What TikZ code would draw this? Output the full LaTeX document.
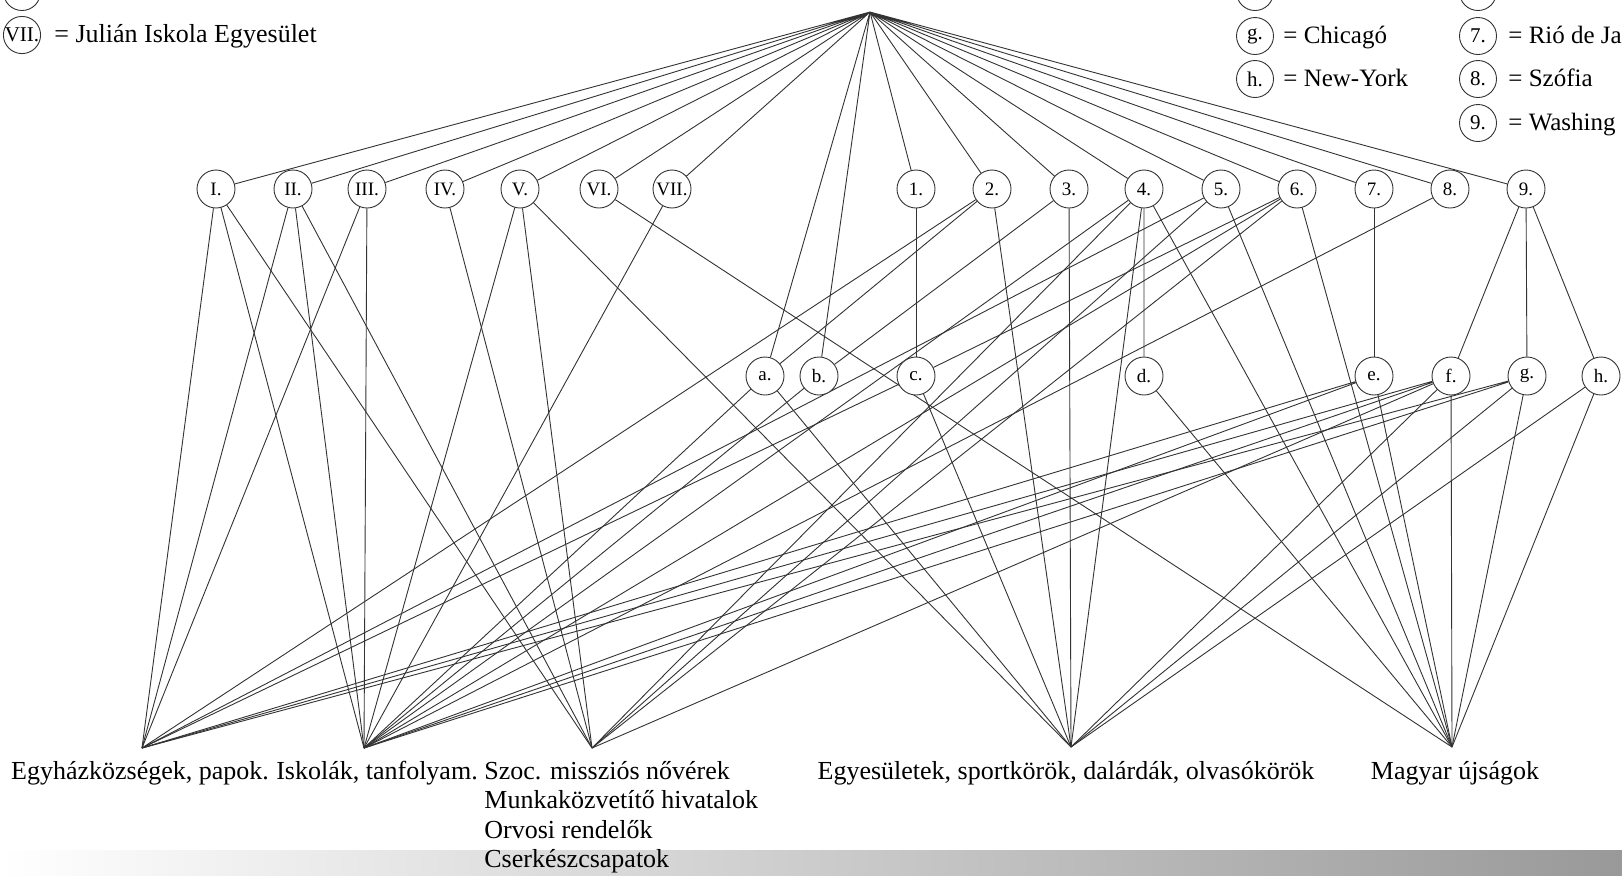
\documentclass[tikz,border=0pt]{standalone}
\usepackage{fontspec}
\setmainfont{Liberation Serif}
\usetikzlibrary{backgrounds}

\tikzset{
 hub/.style={circle, draw=black!80, fill=white, line width=0.45pt, minimum size=19pt, inner sep=0pt, font=\fontsize{9.5}{11}\selectfont},
 keyhub/.style={hub, minimum size=18.5pt, font=\fontsize{10.5}{12}\selectfont},
 tie/.style={line width=0.45pt, black!80},
 lbl/.style={inner sep=0pt, font=\fontsize{13}{15}\selectfont},
 keylbl/.style={lbl, font=\fontsize{12.5}{15}\selectfont}
}

\begin{document}
\begin{tikzpicture}[x=0.5pt, y=-0.5pt]
 \useasboundingbox (0,0) rectangle (1622,875);
 \clip (0,0) rectangle (1622,875);
 \shade[left color=white, right color=black!40] (0,850) rectangle (1622,875);

 \node[keyhub] (kVI) at (22,-8) {};
 \node[keyhub] (kVII) at (22,35) {VII.};
 \node[lbl, anchor=base west] (tVII) at (54,42) {= Julián Iskola Egyesület};
 \node[keyhub] (kf) at (1255,-8) {};
 \node[keyhub] (kg) at (1255,36) {g.};
 \node[keylbl, anchor=base west] (tg) at (1283,43) {= Chicagó};
 \node[keyhub] (kh) at (1255,79) {h.};
 \node[keylbl, anchor=base west] (th) at (1283,86) {= New-York};
 \node[keyhub] (k6) at (1478,-8) {};
 \node[keyhub] (k7) at (1478,36) {7.};
 \node[keylbl, anchor=base west] (t7) at (1508,43) {= Rió de Ja};
 \node[keyhub] (k8) at (1478,79) {8.};
 \node[keylbl, anchor=base west] (t8) at (1508,86) {= Szófia};
 \node[keyhub] (k9) at (1478,123) {9.};
 \node[keylbl, anchor=base west] (t9) at (1508,130) {= Washing};

 \coordinate (top) at (870,12);
 \node[hub] (r1) at (216,189) {I.};
 \node[hub] (r2) at (293,189) {II.};
 \node[hub] (r3) at (367,189) {III.};
 \node[hub] (r4) at (445,189) {IV.};
 \node[hub] (r5) at (520,189) {V.};
 \node[hub] (r6) at (599,189) {VI.};
 \node[hub] (r7) at (672,189) {VII.};
 \node[hub] (n1) at (916,189) {1.};
 \node[hub] (n2) at (992,189) {2.};
 \node[hub] (n3) at (1069,189) {3.};
 \node[hub] (n4) at (1144,189) {4.};
 \node[hub] (n5) at (1221,189) {5.};
 \node[hub] (n6) at (1297,189) {6.};
 \node[hub] (n7) at (1374,189) {7.};
 \node[hub] (n8) at (1450,189) {8.};
 \node[hub] (n9) at (1526,189) {9.};
 \node[hub] (la) at (765,376) {a.};
 \node[hub] (lb) at (819,376) {b.};
 \node[hub] (lc) at (916,376) {c.};
 \node[hub] (ld) at (1144,376) {d.};
 \node[hub] (le) at (1374,376) {e.};
 \node[hub] (lf) at (1451,376) {f.};
 \node[hub] (lg) at (1527,376) {g.};
 \node[hub] (lh) at (1601,376) {h.};

 \coordinate (pE) at (142,748);
 \coordinate (pI) at (364,748);
 \coordinate (pS) at (592,748);
 \coordinate (pY) at (1071,747);
 \coordinate (pM) at (1452,747);
 \node[lbl, anchor=base] (egyhaz) at (140,779) {Egyházközségek, papok.};
 \node[lbl, anchor=base] (iskola) at (377,779) {Iskolák, tanfolyam.};
 \node[lbl, anchor=base west] (szoc) at (484,779) {Szoc. missziós nővérek};
 \node[lbl, anchor=base west] (munka) at (484,808) {Munkaközvetítő hivatalok};
 \node[lbl, anchor=base west] (orvos) at (484,838) {Orvosi rendelők};
 \node[lbl, anchor=base west] (cserk) at (484,867) {Cserkészcsapatok};
 \node[lbl, anchor=base] (egyes) at (1066,779) {Egyesületek, sportkörök, dalárdák, olvasókörök};
 \node[lbl, anchor=base] (ujsag) at (1455,779) {Magyar újságok};

 \begin{pgfonlayer}{background}
 \draw[tie] (top) -- (r1) (top) -- (r2) (top) -- (r3) (top) -- (r4) (top) -- (r5) (top) -- (r6) (top) -- (r7);
 \draw[tie] (top) -- (la) (top) -- (lb);
 \draw[tie] (top) -- (n1) (top) -- (n2) (top) -- (n3) (top) -- (n4) (top) -- (n5) (top) -- (n6) (top) -- (n7) (top) -- (n8) (top) -- (n9);
 \draw[tie] (r1) -- (pE) (r1) -- (pI) (r1) -- (pS);
 \draw[tie] (r2) -- (pE) (r2) -- (pI) (r2) -- (pS);
 \draw[tie] (r3) -- (pE) (r3) -- (pI);
 \draw[tie] (r4) -- (pS);
 \draw[tie] (r5) -- (pI) (r5) -- (pS) (r5) -- (pY);
 \draw[tie] (r6) -- (pM);
 \draw[tie] (r7) -- (pI);
 \draw[tie] (n1) -- (lc);
 \draw[tie] (n2) -- (la) (n2) -- (pE) (n2) -- (pY);
 \draw[tie] (n3) -- (lb) (n3) -- (pY);
 \draw[tie] (n4) -- (ld) (n4) -- (pI) (n4) -- (pS) (n4) -- (pY) (n4) -- (pM);
 \draw[tie] (n5) -- (pE) (n5) -- (pS) (n5) -- (pM);
 \draw[tie] (n6) -- (lc) (n6) -- (pI) (n6) -- (pS) (n6) -- (pM);
 \draw[tie] (n7) -- (le);
 \draw[tie] (n8) -- (pI);
 \draw[tie] (n9) -- (lf) (n9) -- (lg) (n9) -- (lh);
 \draw[tie] (la) -- (pI) (la) -- (pY);
 \draw[tie] (lb) -- (pI);
 \draw[tie] (lc) -- (pE) (lc) -- (pY);
 \draw[tie] (ld) -- (pM);
 \draw[tie] (le) -- (pE) (le) -- (pI) (le) -- (pM);
 \draw[tie] (lf) -- (pE) (lf) -- (pI) (lf) -- (pS) (lf) -- (pY) (lf) -- (pM);
 \draw[tie] (lg) -- (pE) (lg) -- (pI) (lg) -- (pY) (lg) -- (pM);
 \draw[tie] (lh) -- (pY) (lh) -- (pM);
 \end{pgfonlayer}
\end{tikzpicture}
\end{document}
